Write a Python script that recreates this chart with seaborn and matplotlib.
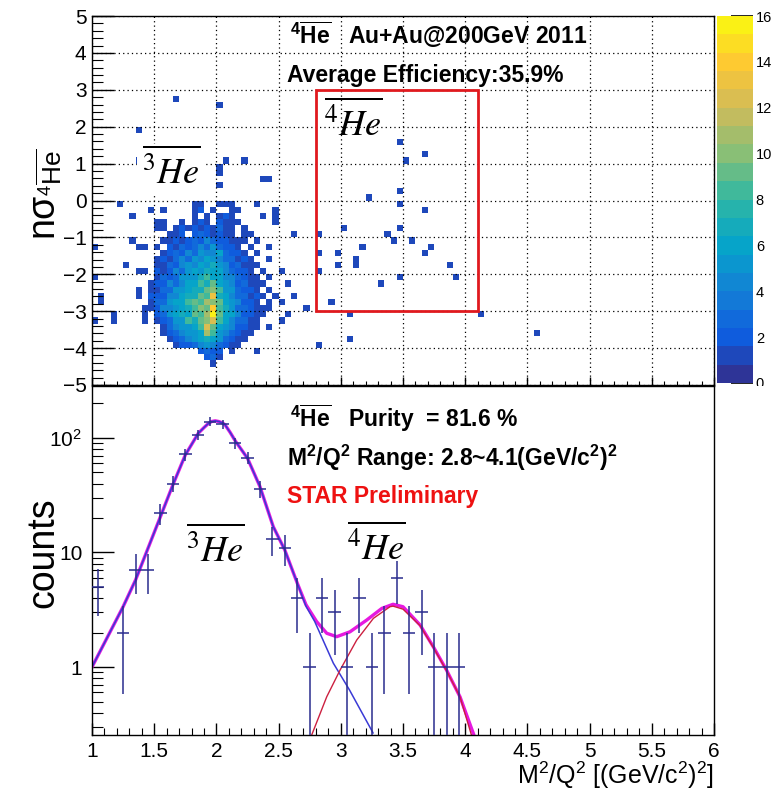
import numpy as np
import pandas as pd
import matplotlib
matplotlib.use("Agg")
import matplotlib.pyplot as plt
import seaborn as sns
from matplotlib.colors import ListedColormap, LinearSegmentedColormap
from matplotlib.patches import Rectangle
from matplotlib.ticker import MultipleLocator, FixedLocator, FixedFormatter, LogLocator, NullFormatter

# ---------------- DATA ----------------
# 2D histogram (top): counts per cell, x bins of 0.05 from 1, nsigma bins of 1/6 from +5 downwards.
# rows start at bin row 30 (nsigma = 0); '.' = 0, digits/letters = counts in base 36
HIST_ROW0 = 30
hist_rows = [
    "....1..... ......11.. 111...1... .....",   # r30
    ".........1 .1....12.1 ..11.....1 .....",   # r31
    "......1... ......1.1. 121....1.1 .....",   # r32
    ".......... 11..1.121. 2111.....1 .....",   # r33
    ".......... 11.1212121 311.1..... .....",   # r34
    ".......... ..112.2321 211.11.... ..1..",   # r35
    "......1... .112123243 22111.1... .....",   # r36
    "1......11. 1.21323435 3221.1..1. .....",   # r37
    ".......... .123243544 63221.1... .....",   # r38
    ".......... 1213435465 433121..1. .....",   # r39
    ".....1.... 1132454657 5423111... .....",   # r40
    ".......11. 2124356576 643221.1.. 1....",   # r41
    "1......... 1323555786 6443211.1. .....",   # r42
    ".........1 2243466879 65423111.. .1...",   # r43
    ".......1.1 133556779a 8553221.1. .....",   # r44
    ".1.....1.2 224467798d 76433121.1 ..1..",   # r45
    ".1.......1 33566898ba 9654221.1. 1....",   # r46
    "........11 2445678a9e 875332111. ....1",   # r47
    "...1....1. 23567698bg 96642211.. .1...",   # r48
    "1..1....1. 12355879ac 8643311... 1....",   # r49
    ".......... .1345568c9 6542211.1. .....",   # r50
    ".......... .1234556b8 543211.... .....",   # r51
    ".......... ..12345676 53211..... .....",   # r52
    ".......... ...1223454 3211...... .....",   # r53
    ".......... .......232 2.1...1... .....",   # r54
    ".......... ........23 1......... .....",   # r55
    ".......... .........1 .......... .....",   # r56
]
# isolated single-count cells outside the dense block (M2/Q2, nsigma)
sparse_m2 = [1.672, 2.02, 1.367, 1.36, 2.07, 2.216, 2.02, 2.02, 2.02, 2.377, 2.425,
             2.825, 3.02, 3.227, 3.37, 3.17, 2.825, 2.98, 2.98, 3.12, 3.12, 2.825,
             3.32, 2.92, 3.07, 3.07, 2.825,
             3.476, 3.52, 3.68, 3.476, 3.476, 3.68, 3.476, 3.42, 3.57, 3.725, 3.68,
             3.87, 3.92, 3.476, 4.127, 4.577]
sparse_ns = [2.72, 2.53, 1.91, 1.10, 1.10, 1.10, 0.93, 0.76, 0.40, 0.53, 0.53,
             -0.89, -0.71, 0.12, -0.92, -1.30, -1.50, -1.50, -1.67, -1.58, -1.75, -1.88,
             -2.29, -2.68, -3.08, -3.71, -3.90,
             1.50, 1.10, 1.31, 0.31, -0.08, -0.28, -0.71, -1.09, -1.09, -1.30, -1.50,
             -1.70, -2.08, -2.08, -3.08, -3.51]
cut_m2 = (2.8, 4.1)
cut_ns = (-3.0, 3.0)

# 1D projection (bottom): bin centres and counts
proj_m2 = [1.05, 1.15, 1.25, 1.35, 1.45, 1.55, 1.65, 1.75, 1.85, 1.95,
           2.05, 2.15, 2.25, 2.35, 2.45, 2.55, 2.65, 2.75, 2.85, 2.95,
           3.05, 3.15, 3.25, 3.35, 3.45, 3.55, 3.65, 3.75, 3.85, 3.95]
proj_counts = [5, 0, 2, 7, 7, 22, 40, 72, 106, 139,
               132, 90, 67, 36, 13, 11, 4, 1, 4, 3,
               1, 4, 1, 2, 6, 2, 3, 1, 1, 1]

# fit curves
fit_total_x = [1.00, 1.25, 1.35, 1.555, 1.65, 1.75, 1.855, 1.90, 1.93, 1.96, 1.99, 2.02, 2.05, 2.07,
               2.11, 2.155, 2.25, 2.35, 2.457, 2.55, 2.65, 2.72, 2.806, 2.887, 2.967, 3.074,
               3.208, 3.33, 3.42, 3.50, 3.637, 3.744, 3.85, 3.958, 4.07]
fit_total_y = [1.0, 3.36, 5.75, 21.2, 38.9, 71, 110, 123, 132, 139, 141, 139, 135, 130,
               112, 93, 66.5, 37.6, 16.8, 10.5, 5.4, 3.5, 2.49, 1.97, 1.84, 2.03,
               2.57, 3.25, 3.53, 3.36, 2.33, 1.5, 0.94, 0.55, 0.255]
fit_he3_x = [1.00, 1.25, 1.35, 1.555, 1.65, 1.75, 1.855, 1.90, 1.93, 1.96, 1.99, 2.02, 2.05, 2.07,
             2.11, 2.155, 2.25, 2.35, 2.457, 2.55, 2.65, 2.72, 2.79, 2.94, 3.07, 3.26]
fit_he3_y = [1.0, 3.36, 5.75, 21.2, 38.9, 71, 110, 123, 132, 139, 141, 139, 135, 130,
             112, 93, 66.5, 37.6, 16.8, 10.5, 5.4, 3.4, 2.5, 1.08, 0.63, 0.265]
fit_he4_x = [2.766, 2.887, 2.994, 3.128, 3.262, 3.395, 3.42, 3.50, 3.637, 3.744, 3.85, 3.958, 4.05]
fit_he4_y = [0.255, 0.55, 0.94, 1.72, 2.66, 3.36, 3.4, 3.2, 2.3, 1.48, 0.93, 0.55, 0.255]

xtick_vals = [1, 1.5, 2, 2.5, 3, 3.5, 4, 4.5, 5, 5.5, 6]
xtick_labels = ["1", "1.5", "2", "2.5", "3", "3.5", "4", "4.5", "5", "5.5", "6"]
ytick_log_vals = [1, 10, 100]
ytick_log_labels = ["1", "10", "10$^{2}$"]
cbar_ticks = [0, 2, 4, 6, 8, 10, 12, 14, 16]

# ---------------- STYLE ----------------
sns.set_theme(style="white")
plt.rcParams["font.family"] = ["Liberation Sans", "DejaVu Sans"]
plt.rcParams.update({
    "mathtext.fontset": "custom",
    "mathtext.rm": "Liberation Sans",
    "mathtext.it": "Liberation Sans:italic",
    "mathtext.bf": "Liberation Sans:bold",
    "axes.edgecolor": "black",
    "axes.linewidth": 1.0,
    "xtick.color": "black",
    "ytick.color": "black",
    "text.color": "black",
})

# ROOT kBird palette, 20 discrete levels
bird_r = [0.2082, 0.0592, 0.0780, 0.0232, 0.1802, 0.5301, 0.8186, 0.9956, 0.9764]
bird_g = [0.1664, 0.3599, 0.5041, 0.6419, 0.7178, 0.7492, 0.7328, 0.7862, 0.9832]
bird_b = [0.5293, 0.8684, 0.8385, 0.7914, 0.6425, 0.4662, 0.3499, 0.1968, 0.0539]
base = LinearSegmentedColormap.from_list("bird", list(zip(bird_r, bird_g, bird_b)))
bird20 = ListedColormap(base((np.arange(20) + 0.5) / 20))

# ---------------- BUILD 2D TABLE ----------------
cx, cy, cn = [], [], []
for i, row in enumerate(hist_rows):
    s = row.replace(" ", "")
    r = HIST_ROW0 + i
    for c, ch in enumerate(s):
        if ch != ".":
            cx.append(1.0 + 0.05 * (c + 0.5))
            cy.append(5.0 - (r + 0.5) / 6.0)
            cn.append(int(ch, 36))
cx += sparse_m2
cy += sparse_ns
cn += [1] * len(sparse_m2)
cells = pd.DataFrame({"m2": cx, "ns": cy, "n": cn})
x_edges = np.linspace(1, 6, 101)
y_edges = np.linspace(-5, 5, 61)

W, H = 773, 798
fig = plt.figure(figsize=(W / 100, H / 100), dpi=100)
ax1 = fig.add_axes([92 / W, (H - 385) / H, 622 / W, 369 / H])
cax = fig.add_axes([717 / W, (H - 383) / H, 36 / W, 367 / H])
ax2 = fig.add_axes([92 / W, (H - 735) / H, 622 / W, 349 / H])
ax2.set_zorder(2)
ax2.patch.set_facecolor("white")

sns.histplot(data=cells, x="m2", y="ns", weights="n", bins=[x_edges, y_edges],
             cmap=bird20, vmin=0, vmax=16, cbar=True, cbar_ax=cax, ax=ax1,
             edgecolor="none", linewidth=0, antialiased=False)
ax1.set_xlim(1, 6)
ax1.set_ylim(-5, 5)
ax1.set_xlabel("")
ax1.set_ylabel("")
ax1.xaxis.set_major_locator(MultipleLocator(0.5))
ax1.xaxis.set_minor_locator(MultipleLocator(0.1))
ax1.yaxis.set_major_locator(MultipleLocator(1))
ax1.yaxis.set_minor_locator(MultipleLocator(0.2))
ax1.tick_params(axis="x", which="major", direction="in", length=6, width=1, bottom=True, top=False, labelbottom=False)
ax1.tick_params(axis="x", which="minor", direction="in", length=3, width=0.8, bottom=True, top=False)
ax1.tick_params(axis="y", which="major", direction="in", length=16, width=1, left=True, right=False, labelsize=15, pad=4)
ax1.tick_params(axis="y", which="minor", direction="in", length=8, width=0.8, left=True, right=False)
ax1.set_axisbelow(False)
ax1.grid(True, which="major", color="black", linestyle=(0, (1, 2.5)), linewidth=0.9)
for sp in ax1.spines.values():
    sp.set_color("black"); sp.set_linewidth(1.0)

ax1.add_patch(Rectangle((cut_m2[0], cut_ns[0]), cut_m2[1] - cut_m2[0], cut_ns[1] - cut_ns[0],
                        fill=False, ec="#e0191e", lw=2.0, zorder=4))
ax1.text(0.318, 0.949, r"$^{\mathbf{4}}\overline{\mathbf{He}}$   Au+Au@200GeV 2011", transform=ax1.transAxes,
         fontsize=16.5, fontweight="bold", ha="left", va="center")
ax1.text(0.313, 0.840, "Average Efficiency:35.9%", transform=ax1.transAxes,
         fontsize=16.5, fontweight="bold", ha="left", va="center")
ax1.text(0.421, 0.713, r"$\overline{^{4}He}$", transform=ax1.transAxes, fontsize=26,
         math_fontfamily="stix", ha="center", va="center", zorder=5)
ax1.text(0.127, 0.583, r"$\overline{^{3}He}$", transform=ax1.transAxes, fontsize=26,
         math_fontfamily="stix", ha="center", va="center", zorder=5,
         bbox=dict(boxstyle="square,pad=0.12", fc="white", ec="none"))

# colorbar styling
cax.yaxis.set_major_locator(FixedLocator(cbar_ticks))
cax.tick_params(axis="y", which="major", direction="in", length=16, width=1.2, right=True, left=False,
                labelsize=10.5, pad=2, color="black")
cax.tick_params(axis="y", which="minor", length=0)
for sp in cax.spines.values():
    sp.set_visible(False)
try:
    cax.collections[-1].colorbar.outline.set_visible(False)
except Exception:
    pass

# ---------------- BOTTOM PANEL ----------------
pm = np.array(proj_m2)
pc = np.array(proj_counts, dtype=float)
keep = pc > 0
pm, pc = pm[keep], pc[keep]
err = np.sqrt(pc)
low = np.where(pc - err > 1e-3, err, pc - 1e-3)

sns.lineplot(x=fit_total_x, y=fit_total_y, ax=ax2, color="#e619e0", linewidth=2.4, sort=False)
sns.lineplot(x=fit_he3_x, y=fit_he3_y, ax=ax2, color="#3a3ad6", linewidth=1.1, sort=False)
sns.lineplot(x=fit_he4_x, y=fit_he4_y, ax=ax2, color="#cc2040", linewidth=1.0, sort=False)
ax2.errorbar(pm, pc, xerr=0.05, yerr=[low, err], fmt="none", ecolor="#2a2c8e", elinewidth=1.1, capsize=0, zorder=3)

ax2.set_yscale("log")
ax2.set_xlim(1, 6)
ax2.set_ylim(0.255, 284)
ax2.set_xlabel("")
ax2.set_ylabel("")
ax2.xaxis.set_major_locator(FixedLocator(xtick_vals))
ax2.xaxis.set_major_formatter(FixedFormatter(xtick_labels))
ax2.xaxis.set_minor_locator(MultipleLocator(0.1))
ax2.yaxis.set_major_locator(FixedLocator(ytick_log_vals))
ax2.yaxis.set_major_formatter(FixedFormatter(ytick_log_labels))
ax2.yaxis.set_minor_locator(LogLocator(base=10, subs=np.arange(2, 10)))
ax2.yaxis.set_minor_formatter(NullFormatter())
ax2.tick_params(axis="x", which="major", direction="in", length=9, width=1, bottom=True, top=False, labelsize=15, pad=5)
ax2.tick_params(axis="x", which="minor", direction="in", length=5, width=0.8, bottom=True, top=False)
ax2.tick_params(axis="y", which="major", direction="in", length=16, width=1, left=True, right=False, labelsize=15, pad=7)
ax2.tick_params(axis="y", which="minor", direction="in", length=8, width=0.8, left=True, right=False)
for sp in ax2.spines.values():
    sp.set_color("black"); sp.set_linewidth(1.0)

ax2.text(0.318, 0.908, r"$^{\mathbf{4}}\overline{\mathbf{He}}$   Purity  = 81.6 %", transform=ax2.transAxes,
         fontsize=16.5, fontweight="bold", ha="left", va="center")
ax2.text(0.313, 0.794, r"M$^{\mathbf{2}}$/Q$^{\mathbf{2}}$ Range: 2.8~4.1(GeV/c$^{\mathbf{2}}$)$^{\mathbf{2}}$",
         transform=ax2.transAxes, fontsize=16.5, fontweight="bold", ha="left", va="center")
ax2.text(0.313, 0.682, "STAR Preliminary", transform=ax2.transAxes, color="#ee1111",
         fontsize=16.5, fontweight="bold", ha="left", va="center")
ax2.text(0.199, 0.536, r"$\overline{^{3}He}$", transform=ax2.transAxes, fontsize=26,
         math_fontfamily="stix", ha="center", va="center")
ax2.text(0.457, 0.542, r"$\overline{^{4}He}$", transform=ax2.transAxes, fontsize=26,
         math_fontfamily="stix", ha="center", va="center")

# axis titles
fig.text(43 / W, 1 - 553 / H, "counts", rotation=90, ha="center", va="center", fontsize=27)
fig.text(0.060, 1 - 194 / H, r"n$\mathregular{\sigma}_{^{4}\overline{\mathregular{He}}}$", rotation=90,
         ha="center", va="center", fontsize=27)
fig.text(714 / W, 1 - 775 / H, r"M$^{2}$/Q$^{2}$ [(GeV/c$^{2}$)$^{2}$]", ha="right", va="center", fontsize=18)

# white pad just below the colour bar (as in the ROOT canvas)
fig.add_artist(Rectangle((716 / W, (H - 400) / H), 1 - 716 / W, 14 / H, transform=fig.transFigure,
                         fc="white", ec="none", zorder=10))

fig.savefig("out.png", dpi=100)
